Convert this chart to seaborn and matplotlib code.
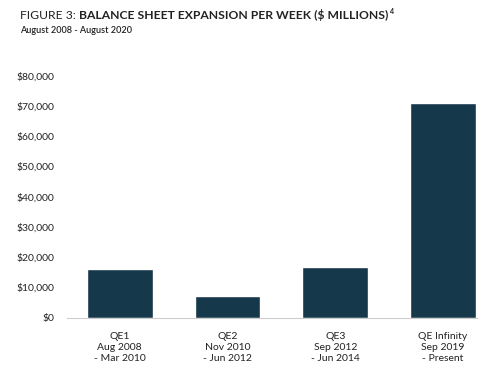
import matplotlib
matplotlib.use('Agg')
import matplotlib.pyplot as plt
import seaborn as sns
import pandas as pd
from matplotlib.ticker import FuncFormatter

programs = ['QE1\nAug 2008\n- Mar 2010', 'QE2\nNov 2010\n- Jun 2012',
            'QE3\nSep 2012\n- Jun 2014', 'QE Infinity\nSep 2019\n- Present']
weekly = [16200, 7100, 16800, 71000]

df = pd.DataFrame({'program': programs, 'weekly': weekly})

sns.set_style('white')
plt.rcParams['font.family'] = ['Lato', 'DejaVu Sans']
plt.rcParams['text.parse_math'] = False

fig = plt.figure(figsize=(5, 3.76), dpi=100)
ax = fig.add_axes([0.134, 0.155, 0.819, 0.644])

sns.barplot(data=df, x='program', y='weekly', color='#15384a', width=0.61,
            saturation=1, ax=ax)

ax.set_xlim(-0.49, 3.31)
ax.set_ylim(0, 80000)
ax.set_yticks(range(0, 80001, 10000))
ax.yaxis.set_major_formatter(FuncFormatter(lambda v, p: f'${v:,.0f}'))
ax.set_xlabel('')
ax.set_ylabel('')
ax.tick_params(axis='both', length=0, labelsize=7.5, colors='#222222')
ax.tick_params(axis='x', pad=10)
ax.tick_params(axis='y', pad=9)
for lab in ax.get_xticklabels():
    lab.set_linespacing(1.3)
for s in ['top', 'right', 'left']:
    ax.spines[s].set_visible(False)
ax.spines['bottom'].set_color('#cccccc')
ax.spines['bottom'].set_linewidth(0.8)

t1 = fig.text(0.041, 0.949, 'FIGURE 3: ', fontsize=8.7, color='#222222', va='baseline')
fig.canvas.draw()
x2 = t1.get_window_extent().x1 / fig.bbox.width
t2 = fig.text(x2, 0.949, 'BALANCE SHEET EXPANSION PER WEEK ($ MILLIONS)',
              fontsize=8.7, fontweight='bold', color='#222222', va='baseline')
fig.canvas.draw()
x3 = t2.get_window_extent().x1 / fig.bbox.width
fig.text(x3 + 0.002, 0.962, '4', fontsize=5, fontweight='bold', color='#222222',
         va='baseline')
fig.text(0.041, 0.912, 'August 2008 - August 2020', fontsize=6.6, color='#222222',
         va='baseline', fontweight='semibold')

fig.savefig('out.png', dpi=100)
